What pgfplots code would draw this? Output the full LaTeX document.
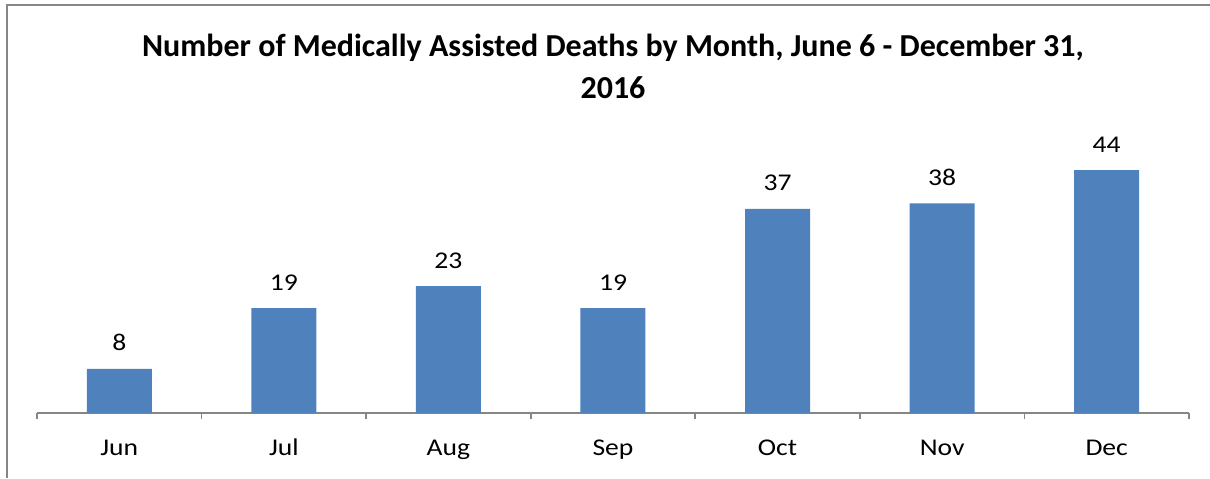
\documentclass[border=0pt]{standalone}
\usepackage{pgfplots}
\pgfplotsset{compat=1.18}
\usepackage{fontspec}
\setmainfont{Carlito}
\definecolor{barblue}{HTML}{4F81BD}
\definecolor{axgray}{HTML}{868686}
\begin{document}
\begin{tikzpicture}
\path[use as bounding box] (0,0) rectangle (605pt,239pt);
\draw[axgray, line width=0.9pt] (3.5pt,0) -- (3.5pt,236.5pt) -- (605pt,236.5pt);
\node[font=\fontsize{16pt}{21pt}\selectfont\bfseries, align=center] at (306.5pt,206pt) {Number of Medically Assisted Deaths by Month, June 6 - December 31,\\2016};
\begin{axis}[
  at={(18.5pt,32.5pt)}, anchor=south west,
  scale only axis, width=576pt, height=138pt,
  xmin=-0.5, xmax=6.5, ymin=0, ymax=50,
  axis x line*=bottom, axis y line=none,
  x axis line style={axgray, line width=0.8pt, -},
  ybar, bar width=32.5pt,
  xtick={0,...,6},
  xticklabels={Jun,Jul,Aug,Sep,Oct,Nov,Dec},
  major x tick style={draw=none},
  minor xtick={-0.5,0.5,...,6.5},
  minor tick length=3pt,
  minor x tick style={axgray, line width=0.8pt},
  tick align=outside,
  /pgf/number format/assume math mode=true,
  xticklabel style={font=\fontsize{12pt}{14pt}\selectfont, anchor=base, yshift=-17pt, xscale=1.15, transform shape},
  nodes near coords,
  every node near coord/.append style={font=\fontsize{12pt}{14pt}\selectfont, black, anchor=base, yshift=9pt, xscale=1.15, transform shape},
]
\addplot[fill=barblue, draw=none] coordinates {(0,8) (1,19) (2,23) (3,19) (4,37) (5,38) (6,44)};
\end{axis}
\end{tikzpicture}
\end{document}
